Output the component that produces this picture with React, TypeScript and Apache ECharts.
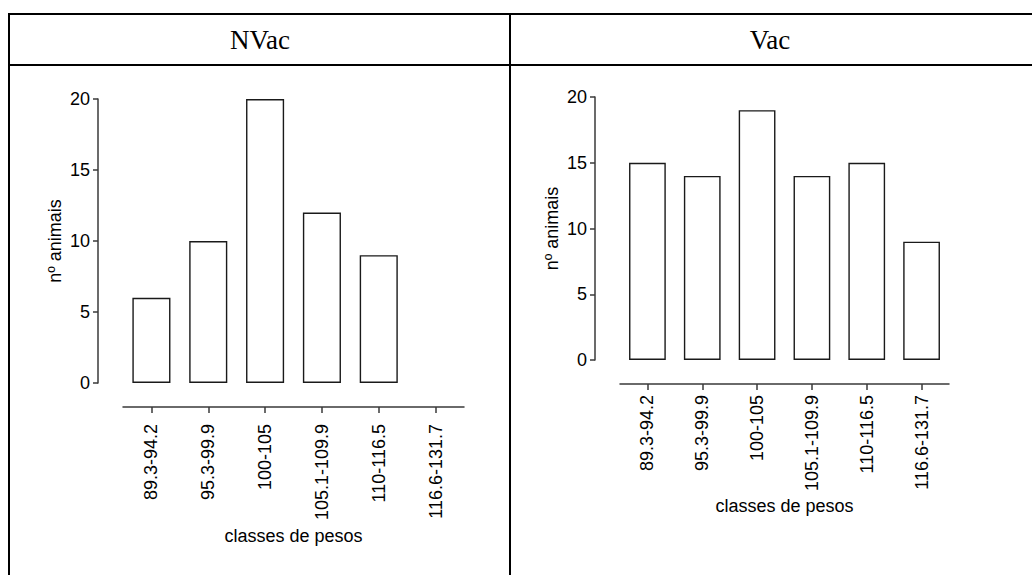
import React, { useEffect, useRef } from "react";
import * as echarts from "echarts";

const categories = ["89.3-94.2", "95.3-99.9", "100-105", "105.1-109.9", "110-116.5", "116.6-131.7"];
const nvacValues = [6, 10, 20, 12, 9, 0];
const vacValues = [15, 14, 19, 14, 15, 9];
const yTicks = { min: 0, max: 20, interval: 5 };
const headers = ["NVac", "Vac"];
const yName = "nº animais";
const xName = "classes de pesos";

const SANS = "'Liberation Sans', Arial, sans-serif";
const SERIF = "'Liberation Serif', 'Times New Roman', serif";
const AXIS = "#3a3a3a";
const FS = 18;

function makeBarData(vals: number[]) {
  return vals.map((v) => (v === 0 ? { value: v, itemStyle: { borderWidth: 0 } } : v));
}

export default function App() {
  const ref = useRef<HTMLDivElement>(null);
  useEffect(() => {
    if (!ref.current) return;
    const chart = echarts.init(ref.current, undefined, { renderer: "svg" });
    const xAxisBase = (gridIndex: number, labelMargin: number, nameGap: number) => ({
      type: "category",
      gridIndex,
      data: categories,
      boundaryGap: true,
      offset: 24,
      axisLine: { show: true, onZero: false, lineStyle: { color: AXIS, width: 1.5 } },
      axisTick: { show: true, alignWithLabel: true, length: 6, lineStyle: { color: AXIS, width: 1.5 } },
      axisLabel: { rotate: 90, margin: labelMargin, fontSize: FS, color: "#000", fontFamily: SANS },
      name: xName,
      nameLocation: "middle",
      nameGap,
      nameTextStyle: { fontSize: FS, color: "#000", fontFamily: SANS },
    });
    const yAxisBase = (gridIndex: number) => ({
      type: "value",
      gridIndex,
      min: yTicks.min,
      max: yTicks.max,
      interval: yTicks.interval,
      offset: 25,
      splitLine: { show: false },
      axisLine: { show: true, lineStyle: { color: AXIS, width: 1.5 } },
      axisTick: { show: true, length: 5, lineStyle: { color: AXIS, width: 1.5 } },
      axisLabel: { margin: 8, fontSize: FS, color: "#000", fontFamily: SANS },
      name: yName,
      nameLocation: "middle",
      nameGap: 34,
      nameTextStyle: { fontSize: FS, color: "#000", fontFamily: SANS },
    });
    const barStyle = { color: "#fff", borderColor: "#1a1a1a", borderWidth: 1.4 };
    chart.setOption({
      animation: false,
      backgroundColor: "#fff",
      grid: [
        { left: 123, top: 99, width: 341, height: 284 },
        { left: 620, top: 97, width: 329, height: 263 },
      ],
      xAxis: [xAxisBase(0, 17, 120), xAxisBase(1, 11, 113)],
      yAxis: [yAxisBase(0), yAxisBase(1)],
      series: [
        { type: "bar", xAxisIndex: 0, yAxisIndex: 0, data: makeBarData(nvacValues), barWidth: "67%", itemStyle: barStyle },
        { type: "bar", xAxisIndex: 1, yAxisIndex: 1, data: makeBarData(vacValues), barWidth: "67%", itemStyle: barStyle },
      ],
      graphic: [
        { type: "rect", shape: { x: 8, y: 13, width: 1024, height: 2 }, style: { fill: "#000" } },
        { type: "rect", shape: { x: 8, y: 64, width: 1024, height: 2 }, style: { fill: "#000" } },
        { type: "rect", shape: { x: 8, y: 13, width: 2, height: 562 }, style: { fill: "#000" } },
        { type: "rect", shape: { x: 509, y: 13, width: 2, height: 562 }, style: { fill: "#000" } },
        {
          type: "text", x: 260, y: 40,
          style: { text: headers[0], font: `27px ${SERIF}`, fill: "#000", textAlign: "center", textVerticalAlign: "middle" },
        },
        {
          type: "text", x: 770, y: 40,
          style: { text: headers[1], font: `27px ${SERIF}`, fill: "#000", textAlign: "center", textVerticalAlign: "middle" },
        },
      ],
    });
    return () => chart.dispose();
  }, []);
  return <div ref={ref} style={{ position: "fixed", left: 0, top: 0, width: 1032, height: 575 }} />;
}
